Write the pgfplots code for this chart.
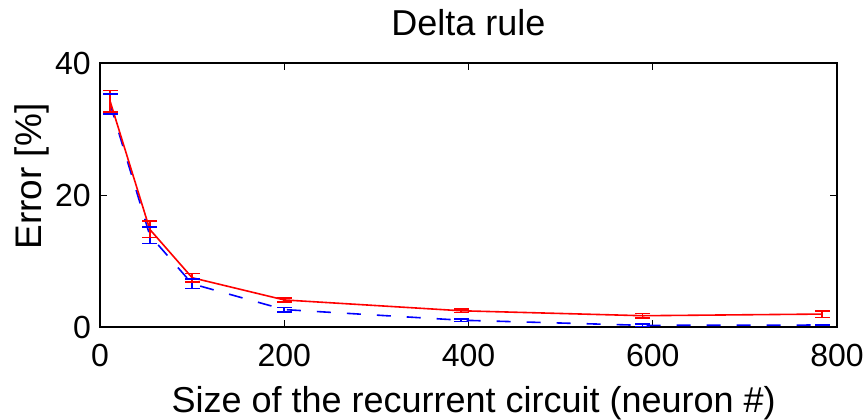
\documentclass[border=0pt]{standalone}
\usepackage{fontspec}
\setmainfont{Liberation Sans}
\usepackage{pgfplots}
\usepackage{pgfplotstable}
\pgfplotsset{compat=1.18}
\definecolor{mblue}{RGB}{0,0,255}
\definecolor{mred}{RGB}{255,0,0}

% size, mean error, spread
\pgfplotstableread{
x    y     e
11   33.8  1.5
54   13.9  1.26
100  6.54  0.7
200  2.64  0.33
392  1.03  0.17
589  0.25  0.2
784  0.3   0.1
}\blueset
\pgfplotstableread{
x    y     e
11   34.2  1.63
54   14.8  1.25
100  7.47  0.63
200  4.1   0.28
392  2.46  0.25
589  1.71  0.35
784  1.96  0.5
}\redset

\begin{document}
\begin{tikzpicture}
% fixed page frame
\path[use as bounding box] (-100bp,-93bp) rectangle (768bp,327bp);
\begin{axis}[
  at={(0,0)}, anchor=south west,
  scale only axis,
  width=737bp, height=264bp,
  xmin=0, xmax=800, ymin=0, ymax=40,
  xtick={0,200,400,600,800},
  ytick={0,20,40},
  tick align=inside,
  tick pos=both,
  major tick length=7bp,
  axis line style={line width=1.3bp},
  every tick/.style={black, line width=1bp},
  /pgf/number format/assume math mode=true,
  tick label style={font=\fontsize{32bp}{36bp}\selectfont, inner sep=0pt},
  xticklabel style={anchor=base, yshift=-39bp},
  yticklabel style={anchor=east, xshift=-9bp},
  title={Delta rule},
  title style={font=\fontsize{36bp}{40bp}\selectfont, at={(axis description cs:0.5,1.083)}, anchor=base, inner sep=0pt},
  xlabel={Size of the recurrent circuit (neuron \#)},
  xlabel style={font=\fontsize{36bp}{40bp}\selectfont, at={(axis description cs:0.507,-0.322)}, anchor=base, inner sep=0pt},
  ylabel={Error [\%]},
  ylabel style={font=\fontsize{37bp}{40bp}\selectfont, at={(axis description cs:-0.0787,0.57)}, anchor=base, inner sep=0pt},
]
% blue series (dashed) with vertical spread bars
\addplot[mblue, line width=1.6bp, dash pattern=on 14bp off 16bp,
  error bars/.cd, y dir=both, y explicit, error mark=none,
  error bar style={draw=mblue, solid, line width=1.6bp}]
  table[x=x, y=y, y error=e] {\blueset};
% blue caps
\addplot[mblue, only marks, mark=-, mark size=7.5bp, mark options={draw=mblue, line width=1.6bp, solid}]
  table[x=x, y expr=\thisrow{y}+\thisrow{e}] {\blueset};
\addplot[mblue, only marks, mark=-, mark size=7.5bp, mark options={draw=mblue, line width=1.6bp, solid}]
  table[x=x, y expr=\thisrow{y}-\thisrow{e}] {\blueset};
% red series (solid) with vertical spread bars
\addplot[mred, line width=1.6bp,
  error bars/.cd, y dir=both, y explicit, error mark=none,
  error bar style={draw=mred, line width=1.6bp}]
  table[x=x, y=y, y error=e] {\redset};
% red caps
\addplot[mred, only marks, mark=-, mark size=7.5bp, mark options={draw=mred, line width=1.6bp}]
  table[x=x, y expr=\thisrow{y}+\thisrow{e}] {\redset};
\addplot[mred, only marks, mark=-, mark size=7.5bp, mark options={draw=mred, line width=1.6bp}]
  table[x=x, y expr=\thisrow{y}-\thisrow{e}] {\redset};
\end{axis}
\end{tikzpicture}
\end{document}
